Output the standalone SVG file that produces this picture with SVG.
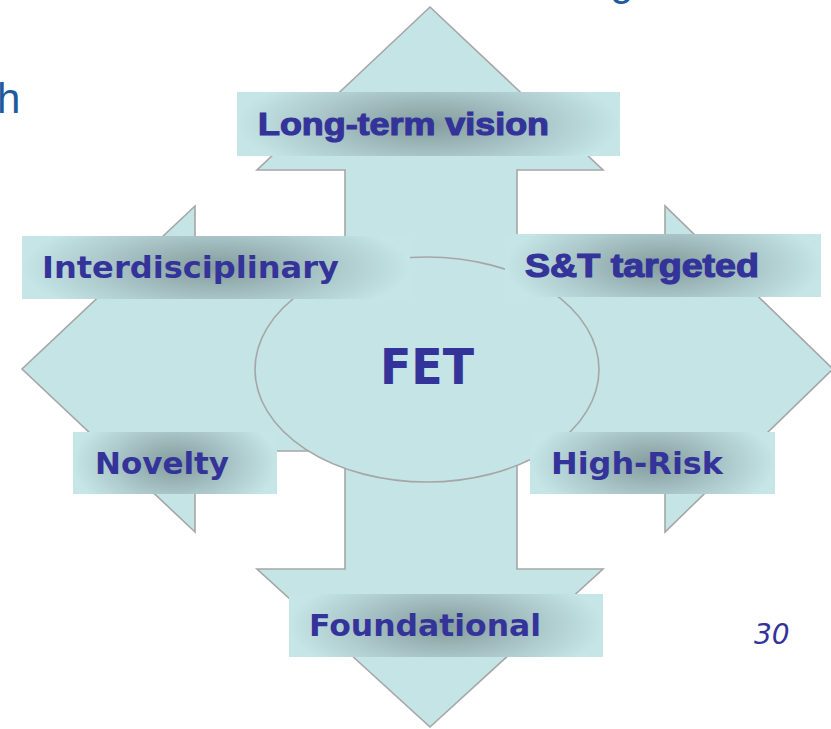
<svg xmlns="http://www.w3.org/2000/svg" width="831" height="729" viewBox="0 0 831 729">
<defs>
<radialGradient id="lbl" cx="0.5" cy="0.5" r="0.5" gradientTransform="translate(0.5 0.5) scale(1 1.8) translate(-0.5 -0.5)">
<stop offset="0" stop-color="#849c9e"/>
<stop offset="0.55" stop-color="#a8c4c6"/>
<stop offset="1" stop-color="#c5e5e7"/>
</radialGradient>
<style>
.shape{fill:#c4e4e6;stroke:#a6a6a6;stroke-width:1.6;stroke-linejoin:miter}
.box{fill:url(#lbl)}
.v{font-family:"DejaVu Sans",Verdana,sans-serif;font-weight:bold;fill:#333399}
.h{font-family:"Liberation Sans",Arial,sans-serif;font-weight:bold;fill:#333399;stroke:#333399;stroke-width:1.2}
.fet{font-family:"DejaVu Sans",Verdana,sans-serif;font-weight:bold;fill:#333399;font-size:49px}
.title{font-family:"Liberation Sans",Arial,sans-serif;fill:#1f5b9c;font-size:42px}
</style>
</defs>
<rect width="831" height="729" fill="#ffffff"/>
<text class="title" x="-3" y="113">h</text>
<text class="title" x="610" y="-5">g</text>
<g id="arrows">
<path class="shape" d="M430,7 L603,170 L517,170 L517,287 L665,287 L665,206 L833,369 L665,532 L665,451 L517,451 L517,569 L603,569 L430,727 L257,569 L345,569 L345,451 L195,451 L195,532 L22,369 L195,206 L195,287 L345,287 L345,170 L257,170 Z"/>
</g>
<g id="fet">
<ellipse class="shape" cx="427" cy="369.5" rx="172" ry="112.5"/>
<text class="fet" x="380" y="384" textLength="94" lengthAdjust="spacingAndGlyphs">FET</text>
</g>
<g id="long-term-vision">
<rect class="box" x="237" y="92" width="383" height="64"/>
<text class="h" x="258" y="135" font-size="32" textLength="291" lengthAdjust="spacingAndGlyphs">Long-term vision</text>
</g>
<g id="interdisciplinary">
<rect class="box" x="22" y="236" width="388" height="63"/>
<text class="v" x="42" y="278" font-size="31" textLength="297" lengthAdjust="spacingAndGlyphs">Interdisciplinary</text>
</g>
<g id="st-targeted">
<rect class="box" x="505" y="234" width="316" height="63"/>
<text class="h" x="525" y="277" font-size="33" textLength="234" lengthAdjust="spacingAndGlyphs">S&amp;T targeted</text>
</g>
<g id="novelty">
<rect class="box" x="73" y="432" width="204" height="62"/>
<text class="v" x="95" y="474" font-size="31" textLength="134" lengthAdjust="spacingAndGlyphs">Novelty</text>
</g>
<g id="high-risk">
<rect class="box" x="530" y="432" width="245" height="62"/>
<text class="v" x="551" y="474" font-size="31" textLength="172" lengthAdjust="spacingAndGlyphs">High-Risk</text>
</g>
<g id="foundational">
<rect class="box" x="289" y="594" width="314" height="63"/>
<text class="v" x="309" y="636" font-size="31" textLength="232" lengthAdjust="spacingAndGlyphs">Foundational</text>
</g>
<text x="754" y="644" font-family="'DejaVu Sans',Verdana,sans-serif" font-style="italic" font-size="28" fill="#333399">30</text>
</svg>
